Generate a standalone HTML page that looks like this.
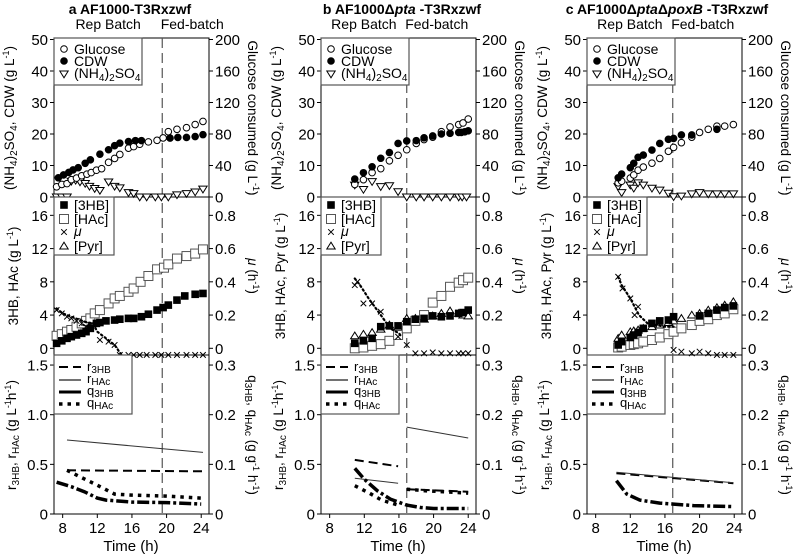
<!DOCTYPE html>
<html><head><meta charset="utf-8"><style>
body{margin:0;background:#fff}
svg{display:block;font-family:"Liberation Sans",sans-serif}
</style></head><body>
<svg id="chart" width="798" height="556" viewBox="0 0 798 556" xmlns="http://www.w3.org/2000/svg"></svg>
<script>
// ---- Panel a data ----
const aGluT=[7.3,7.9,8.5,9,9.6,10.2,10.8,11.3,11.9,12.5,13.3,14,14.6,15.6,16.2,16.9,17.9,18.9,19.6,20.2,21.2,22.3,23.3,24.2];
const aGluV=[13,16,17,22,24,27,29,31,34,36,44,49,54,62,64,67,70,72,75,83,86,88,92,96];
const aCdwT=[7.5,8.1,8.7,9.2,9.8,10.6,11.2,12.3,13.3,14,14.6,15.6,16.4,17.1,20.4,21.3,22.3,23.3,24.2];
const aCdwV=[6.1,7,7.8,8.6,9.3,10.7,11.8,13.6,15,16.3,17.1,17.6,17.9,17.9,18.7,18.9,18.9,19.2,19.8];
const aNhT=[7.3,7.9,8.5,9,9.5,10,10.6,11.1,11.7,12.3,13.3,14,14.6,15.6,16.2,16.9,17.7,18.7,19.4,20.2,21.2,22.3,23.3,24.2];
const aNhV=[0,0,0,5,5.3,4.8,4.3,3.4,2.7,2.1,4.8,3.4,2.9,1.4,1.1,0,0,0,0,0,0.7,1.1,1.6,2.5];
const aMidT=[7.3,7.9,8.5,9,9.6,10.2,10.7,11.2,11.9,12.3,13,14,14.6,15.6,16.2,17.1,17.9,18.9,19.6,20.2,21.2,22.1,23.3,24.2];
const a3hbV=[0.6,0.9,1.2,1.4,1.6,1.8,2.0,2.4,3.0,3.1,3.3,3.4,3.5,3.6,3.6,3.8,4.1,4.6,4.9,5.2,5.8,6.3,6.5,6.6];
const aHacT=[7.3,7.9,8.5,9,9.6,10.2,10.7,11.2,11.7,12.3,13.3,14,14.6,15.6,16.2,17,17.9,18.9,19.7,20.2,21.2,22.3,23.3,24.2];
const aHacV=[1.5,1.7,2.0,2.2,2.6,3.0,3.3,3.6,4.2,4.6,5.4,6.0,6.3,6.8,7.2,8.0,8.7,9.5,9.7,10.1,10.8,11.1,11.4,11.9];
const aMuT=[7.3,7.9,8.5,9,9.6,10.2,10.7,11.2,12.3,13.3,14,14.6,15.6,16.2,16.9,17.7,18.7,19.4,20.2,21.2,22.3,23.3,24.2];
const aMuV=[0.23,0.21,0.19,0.18,0.165,0.15,0.13,0.14,0.05,0.04,0.02,-0.04,-0.04,-0.04,-0.04,-0.04,-0.04,-0.04,-0.04,-0.04,-0.04,-0.04,-0.04];
const aMuFitT=[7.3,8,9,10,10.5,11.5,12,13,14,14.8];
const aMuFitV=[0.24,0.21,0.19,0.17,0.16,0.15,0.1,0.06,0.02,-0.04];
const aR3T=[8.5,24.2], aR3V=[0.44,0.43];
const aRhT=[8.5,24.2], aRhV=[0.745,0.62];
const aQ3T=[7.3,9,10.5,12,13,16,20,24]; const aQ3V=[0.064,0.055,0.045,0.032,0.028,0.024,0.023,0.02];
const aQhT=[8.5,10,12,14,16,20,24]; const aQhV=[0.088,0.075,0.058,0.04,0.038,0.036,0.032];
// ---- Panel b data ----
const bGluT=[10.9,11.9,12.9,13.9,14.9,15.9,16.9,18,18.9,19.9,20.9,21.9,22.9,23.4,24.0];
const bGluV=[16,22,31,36,46,53,60,68,73,76,83,89,92,94,99];
const bCdwT=[10.9,11.9,12.9,13.9,14.9,15.9,16.9,18,18.9,19.9,20.9,21.9,22.9,23.2,23.6,24.0];
const bCdwV=[5.7,7.7,9.6,12.3,14.1,17.0,17.8,17.9,18.8,19.4,20,20.2,20.5,20.5,20.7,21.0];
const bNhT=[10.9,11.9,12.9,13.9,14.9,15.9,16.9,18,18.9,19.9,20.9,21.9,22.9,23.3,23.8];
const bNhV=[3.8,2.4,4.9,3.3,3.6,1.7,0,0,0,0,0,0,0,0,0];
const bMidT=[10.9,11.9,12.9,13.9,14.9,15.9,16.9,17.9,18.9,19.9,20.9,21.9,22.9,23.4,24];
const b3hbV=[0.6,0.9,1.2,2.6,2.7,2.7,3.2,3.5,3.6,3.9,3.8,3.9,4.2,4.3,4.6];
const bHacV=[0,0.1,0.3,0.5,0.9,1.6,2.4,3.3,4.0,5.5,6.3,7.4,7.9,8.2,8.5];
const bPyrV=[1.5,1.7,1.9,2.3,2.8,2.5,3.6,3.6,3.5,3.9,4.2,4.5,4.2,4.0,3.9];
const bMuT=[10.9,11.2,11.9,12.9,13.9,15.9,16.9,17.9,18.9,19.9,20.9,21.9,22.9,23.4,24];
const bMuV=[0.38,0.4,0.27,0.27,0.22,0.07,0.02,-0.03,-0.03,-0.025,-0.03,-0.03,-0.03,-0.03,-0.03];
const bMuFitT=[10.9,11.5,12.5,13.9,15,16,16.3];
const bMuFitV=[0.42,0.38,0.3,0.2,0.12,0.09,0.07];
const bR3T=[[10.9,15.9],[16.9,24]]; const bR3V=[[0.545,0.48],[0.25,0.225]];
const bRhT=[[10.9,15.9],[16.9,24]]; const bRhV=[[0.36,0.31],[0.875,0.765]];
const bQ3T=[10.9,12,13.5,15,16.9,18.5,20,24]; const bQ3V=[0.092,0.07,0.047,0.03,0.018,0.013,0.011,0.011];
const bQhT=[[10.9,12.5,14,15.9],[16.9,19,24]]; const bQhV=[[0.057,0.043,0.028,0.018],[0.05,0.047,0.042]];
// ---- Panel c data ----
const cT=[10.6,11.0,12.0,12.4,12.9,13.5,14.5,15.4,16.4,17.0,17.9,19.1,20.0,21.0,22.0,22.9,23.9];
const cGluV=[18,20,24,28,34,38,43,49,58,63,69,76,82,86,90,90,92];
const cNhV=[3.3,1.4,3.8,2.8,4.5,3.8,2.8,2.2,1.2,0.1,0.3,1.0,1.4,1.0,1.0,1.0,1.0];
const cCdwT=[10.6,11.0,12.0,12.4,12.9,13.5,14.5,15.4,16.4,17.0,17.9,19.1,22.0];
const cCdwV=[6.1,7.3,9.3,10.7,12.6,13.3,14.9,17.0,18.3,18.6,19.7,19.7,21.5];
const c3hbT=[10.6,11.0,12.0,12.4,12.9,13.5,14.5,15.4,16.4,17.0,20.0,21.0,22.0,22.9,23.9];
const c3hbV=[0.4,0.8,1.3,1.6,1.9,2.4,3.0,3.3,3.4,3.8,3.9,4.2,4.6,4.9,5.1];
const cHacV=[0.1,0.2,0.4,0.5,0.6,0.8,1.0,1.3,1.7,2.0,2.4,2.8,3.3,3.5,4.0,4.2,4.7];
const cPyrV=[1.2,1.6,2.0,2.1,2.2,2.4,2.6,2.8,3.1,3.3,3.6,4.0,4.2,4.6,4.9,5.2,5.6];
const cMuT=[10.6,11.1,12.0,12.5,12.9,17.0,17.9,19.1,20,21,22,22.9,23.9];
const cMuV=[0.43,0.36,0.3,0.2,0.25,-0.01,-0.02,-0.03,-0.02,-0.03,-0.04,-0.04,-0.04];
const cMuFitT=[10.6,11,12,13,14,15,16,17];
const cMuFitV=[0.43,0.38,0.3,0.2,0.15,0.14,0.13,0.13];
const cR3T=[10.4,23.9], cR3V=[0.41,0.31];
const cRhT=[10.4,23.9], cRhV=[0.42,0.315];
const cQ3T=[10.4,11.6,13.1,15.4,17,19.3,23.9]; const cQ3V=[0.067,0.04,0.028,0.022,0.02,0.017,0.015];

const xTicks=[8,12,16,20,24];
const topLeftTicks=[0,10,20,30,40,50], topRightTicks=[0,40,80,120,160,200];
const midLeftTicks=[0,4,8,12,16], midRightTicks=['0','0.2','0.4','0.6','0.8'];
const botLeftTicks=['0','0.5','1.0','1.5'], botRightTicks=['0','0.1','0.2','0.3'];

const svg=document.getElementById('chart');
const NS='http://www.w3.org/2000/svg';
function mk(tag,attrs,parent){const e=document.createElementNS(NS,tag);for(const k in attrs)e.setAttribute(k,attrs[k]);(parent||svg).appendChild(e);return e;}
function txt(s,x,y,size,anchor,parent,extra){const t=mk('text',Object.assign({x:x,y:y,'font-size':size,'text-anchor':anchor||'middle',fill:'#000'},extra||{}),parent);t.innerHTML=s;return t;}

function panel(L,id,title,titleX,dashT,D){
  const g=mk('g',{});
  
  
  const R=L+155;
  const X=t=>L+(t-7)*8.66;
  const YT=v=>197-3.15*v, YG=v=>197-3.15*v/4;
  const YM=v=>348.3-8.31*v, YMu=v=>348.3-8.31*v*20;
  const YB=v=>514-99.3*v, YQ=v=>514-99.3*v*5;
  for(const [y0,y1,n] of [[38,197,'top'],[197,355,'middle'],[355,514,'bottom']]){
    const r=mk('rect',{x:L,y:y0,width:155,height:y1-y0,fill:'none',stroke:'#000','stroke-width':1},g);
    
    
  }
  const tt=txt(title,titleX,14,14,'middle',g,{'font-weight':'bold'});
  
  
  const rb=txt('Rep Batch',(L+X(dashT))/2,29,14,'middle',g);
  
  
  const fb=txt('Fed-batch',X(dashT)+30,29,14,'middle',g);
  
  
  function tickL(vals,Yf,labels){vals.forEach((v,i)=>{const y=Yf(v);mk('line',{x1:L-4,x2:L,y1:y,y2:y,stroke:'#000'},g);txt(labels?labels[i]:v,L-6,y+5.5,15,'end',g);});}
  function tickR(vals,Yf,labels){vals.forEach((v,i)=>{const y=Yf(v);mk('line',{x1:R,x2:R+4,y1:y,y2:y,stroke:'#000'},g);txt(labels?labels[i]:v,R+6,y+5.5,15,'start',g);});}
  tickL(topLeftTicks,YT); tickR(topRightTicks,YG);
  tickL(midLeftTicks,YM); tickR([0,0.2,0.4,0.6,0.8],YMu,midRightTicks);
  tickL([0,0.5,1,1.5],YB,botLeftTicks); tickR([0,0.1,0.2,0.3],YQ,botRightTicks);
  xTicks.forEach(t=>{mk('line',{x1:X(t),x2:X(t),y1:514,y2:518,stroke:'#000'},g);const l=txt(t,X(t),533,15,'middle',g);});
  const xt=txt('Time (h)',L+77,551,15,'middle',g);
  
  
  function rot(s,x,y,ang,name){const t=txt(s,0,0,13.5,'middle',g,{transform:`translate(${x},${y}) rotate(${ang})`});}
  rot('(NH<tspan font-size="10" dy="3">4</tspan><tspan dy="-3">)</tspan><tspan font-size="10" dy="3">2</tspan><tspan dy="-3">SO</tspan><tspan font-size="10" dy="3">4</tspan><tspan dy="-3">, CDW  (g L</tspan><tspan font-size="9" dy="-5">-1</tspan><tspan dy="5">)</tspan>',L-40,118,-90,id+'-top-left-axis-title');
  rot('Glucose consumed (g L<tspan font-size="9" dy="-5">-1</tspan><tspan dy="5">)</tspan>',R+39,118,90,id+'-top-right-axis-title');
  rot(id==='a'?'3HB, HAc (g L<tspan font-size="9" dy="-5">-1</tspan><tspan dy="5">)</tspan>':'3HB, HAc, Pyr  (g L<tspan font-size="9" dy="-5">-1</tspan><tspan dy="5">)</tspan>',L-36,276,-90,id+'-middle-left-axis-title');
  rot('<tspan font-style="italic">μ</tspan>  (h<tspan font-size="9" dy="-5">-1</tspan><tspan dy="5">)</tspan>',R+39,276,90,id+'-middle-right-axis-title');
  rot('r<tspan font-size="10" dy="3">3HB</tspan><tspan dy="-3">, r</tspan><tspan font-size="10" dy="3">HAc</tspan><tspan dy="-3">  (g L</tspan><tspan font-size="9" dy="-5">-1</tspan><tspan dy="5">h</tspan><tspan font-size="9" dy="-5">-1</tspan><tspan dy="5">)</tspan>',L-38,435,-90,id+'-bottom-left-axis-title');
  rot('q<tspan font-size="10" dy="3">3HB</tspan><tspan dy="-3">, q</tspan><tspan font-size="10" dy="3">HAc</tspan><tspan dy="-3">  (g g</tspan><tspan font-size="9" dy="-5">-1</tspan><tspan dy="5"> h</tspan><tspan font-size="9" dy="-5">-1</tspan><tspan dy="5">)</tspan>',R+39,435,90,id+'-bottom-right-axis-title');
  const dl=mk('line',{x1:X(dashT),x2:X(dashT),y1:38,y2:514,stroke:'#555','stroke-width':1.2,'stroke-dasharray':'10,5'},g);
  
  
  function circ(x,y,fill,name){const c=mk('circle',{cx:x,cy:y,r:3.3,fill:fill?'#000':'#fff',stroke:'#000','stroke-width':1},g);}
  function tri(x,y,down,name){const s=4.2;const p=down?`${x-s},${y-s*0.7} ${x+s},${y-s*0.7} ${x},${y+s*0.9}`:`${x-s},${y+s*0.7} ${x+s},${y+s*0.7} ${x},${y-s*0.9}`;const e=mk('polygon',{points:p,fill:'#fff',stroke:'#000','stroke-width':1},g);}
  function sq(x,y,open,name){const s=open?4.5:3.3;const e=mk('rect',{x:x-s,y:y-s,width:2*s,height:2*s,fill:open?'#fff':'#000',stroke:open?'#555':'#000','stroke-width':1},g);}
  function cross(x,y,name){const s=2.8;const e=mk('path',{d:`M${x-s},${y-s}L${x+s},${y+s}M${x-s},${y+s}L${x+s},${y-s}`,stroke:'#000','stroke-width':1},g);}
  function line(T,V,Xf,Yf,style,name){const d=T.map((t,i)=>(i?'L':'M')+Xf(t).toFixed(1)+','+Yf(V[i]).toFixed(1)).join('');const e=mk('path',Object.assign({d:d,fill:'none'},style),g);}
  const dashS={stroke:'#000','stroke-width':2,'stroke-dasharray':'9,5'};
  const solidS={stroke:'#333','stroke-width':1};
  const dashdotS={stroke:'#000','stroke-width':3.5,'stroke-dasharray':'12,3,3,3'};
  const dotS={stroke:'#000','stroke-width':3.5,'stroke-dasharray':'3.5,5'};
  const muFitS={stroke:'#000','stroke-width':2.2,'stroke-dasharray':'1.5,3','stroke-linecap':'round'};
  D.nhT.forEach((t,i)=>tri(X(t),YT(D.nhV[i]),true,id+'-ammonium-point'));
  D.gluT.forEach((t,i)=>circ(X(t),YG(D.gluV[i]),false,id+'-glucose-point'));
  D.cdwT.forEach((t,i)=>circ(X(t),YT(D.cdwV[i]),true,id+'-cdw-point'));
  if(D.pyrV) D.pyrT.forEach((t,i)=>tri(X(t),YM(D.pyrV[i]),false,id+'-pyr-point'));
  D.hacT.forEach((t,i)=>sq(X(t),YM(D.hacV[i]),true,id+'-hac-point'));
  D.hbT.forEach((t,i)=>sq(X(t),YM(D.hbV[i]),false,id+'-3hb-point'));
  line(D.muFitT,D.muFitV,X,YMu,muFitS,id+'-mu-fit-line');
  D.muT.forEach((t,i)=>cross(X(t),YMu(D.muV[i]),id+'-mu-point'));
  D.r3.forEach(seg=>line(seg[0],seg[1],X,YB,dashS,id+'-r3hb-line'));
  D.rh.forEach(seg=>line(seg[0],seg[1],X,YB,solidS,id+'-rhac-line'));
  D.q3.forEach(seg=>line(seg[0],seg[1],X,YQ,dashdotS,id+'-q3hb-line'));
  D.qh.forEach(seg=>line(seg[0],seg[1],X,YQ,dotS,id+'-qhac-line'));
  function legendBox(x,y,w,h,name){const r=mk('rect',{x:x,y:y,width:w,height:h,fill:'#fff',stroke:'#555','stroke-width':1.2},g);}
  legendBox(L,38,88,47,id+'-top-legend');
  circ(L+10,49,false,id+'-legend-glucose-marker');txt('Glucose',L+20,54,14,'start',g);
  circ(L+10,61,true,id+'-legend-cdw-marker');txt('CDW',L+20,66,14,'start',g);
  tri(L+10,74,true,id+'-legend-ammonium-marker');txt('(NH<tspan font-size="10" dy="3">4</tspan><tspan dy="-3">)</tspan><tspan font-size="10" dy="3">2</tspan><tspan dy="-3">SO</tspan><tspan font-size="10" dy="3">4</tspan>',L+20,78,14,'start',g);
  legendBox(L,197,60,58,id+'-middle-legend');
  sq(L+10,205,false,id+'-legend-3hb-marker');txt('[3HB]',L+20,210,14,'start',g);
  sq(L+10,219,true,id+'-legend-hac-marker');txt('[HAc]',L+20,224,14,'start',g);
  cross(L+10,232,id+'-legend-mu-marker');txt('<tspan font-style="italic">μ</tspan>',L+20,236,14,'start',g);
  tri(L+10,246,false,id+'-legend-pyr-marker');txt('[Pyr]',L+20,251,14,'start',g);
  legendBox(L,355,78,59,id+'-bottom-legend');
  const lx=[L+5,L+27];
  line([0,1],[0,0],i=>lx[i],()=>367,dashS,id+'-legend-r3hb');txt('r<tspan font-size="10" dy="2">3HB</tspan>',L+33,371,13,'start',g);
  line([0,1],[0,0],i=>lx[i],()=>380,{stroke:'#444','stroke-width':1.5},id+'-legend-rhac');txt('r<tspan font-size="10" dy="2">HAc</tspan>',L+33,383,13,'start',g);
  line([0,1],[0,0],i=>lx[i],()=>392,{stroke:'#000','stroke-width':3},id+'-legend-q3hb');txt('q<tspan font-size="10" dy="2">3HB</tspan>',L+33,395,13,'start',g);
  line([0,1],[0,0],i=>lx[i],()=>404,dotS,id+'-legend-qhac');txt('q<tspan font-size="10" dy="2">HAc</tspan>',L+33,407,13,'start',g);
}

panel(54,'a','a  AF1000-T3Rxzwf',130,19.5,{
  gluT:aGluT,gluV:aGluV,cdwT:aCdwT,cdwV:aCdwV,nhT:aNhT,nhV:aNhV,
  hbT:aMidT,hbV:a3hbV,hacT:aHacT,hacV:aHacV,pyrT:null,pyrV:null,
  muT:aMuT,muV:aMuV,muFitT:aMuFitT,muFitV:aMuFitV,
  r3:[[aR3T,aR3V]],rh:[[aRhT,aRhV]],q3:[[aQ3T,aQ3V]],qh:[[aQhT,aQhV]]});
panel(321,'b','b  AF1000Δ<tspan font-style="italic">pta</tspan> -T3Rxzwf',402,16.9,{
  gluT:bGluT,gluV:bGluV,cdwT:bCdwT,cdwV:bCdwV,nhT:bNhT,nhV:bNhV,
  hbT:bMidT,hbV:b3hbV,hacT:bMidT,hacV:bHacV,pyrT:bMidT,pyrV:bPyrV,
  muT:bMuT,muV:bMuV,muFitT:bMuFitT,muFitV:bMuFitV,
  r3:[[bR3T[0],bR3V[0]],[bR3T[1],bR3V[1]]],rh:[[bRhT[0],bRhV[0]],[bRhT[1],bRhV[1]]],
  q3:[[bQ3T,bQ3V]],qh:[[bQhT[0],bQhV[0]],[bQhT[1],bQhV[1]]]});
panel(587,'c','c  AF1000Δ<tspan font-style="italic">pta</tspan>Δ<tspan font-style="italic">poxB</tspan> -T3Rxzwf',667,16.9,{
  gluT:cT,gluV:cGluV,cdwT:cCdwT,cdwV:cCdwV,nhT:cT,nhV:cNhV,
  hbT:c3hbT,hbV:c3hbV,hacT:cT,hacV:cHacV,pyrT:cT,pyrV:cPyrV,
  muT:cMuT,muV:cMuV,muFitT:cMuFitT,muFitV:cMuFitV,
  r3:[[cR3T,cR3V]],rh:[[cRhT,cRhV]],q3:[[cQ3T,cQ3V]],qh:[]});
</script>
</body></html>
